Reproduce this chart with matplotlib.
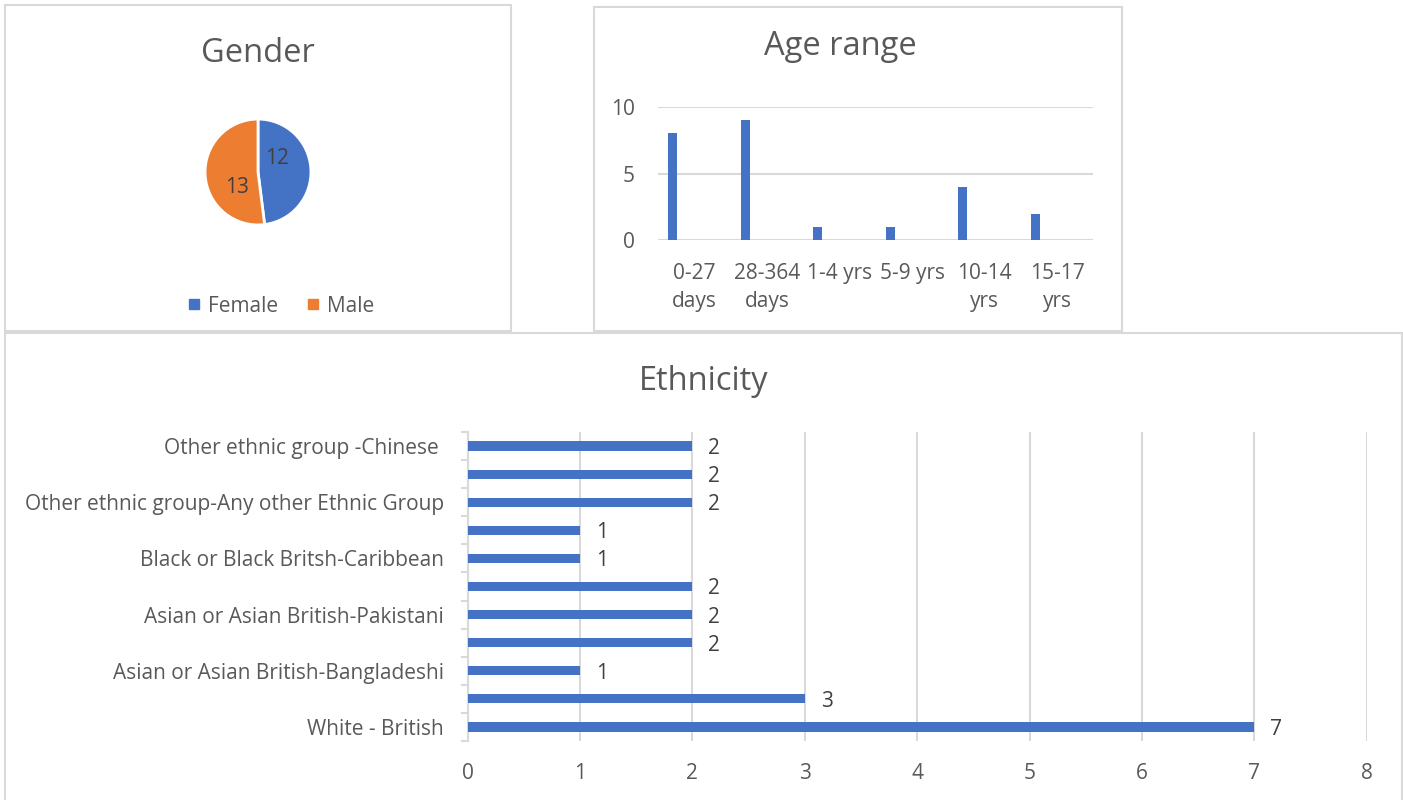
import matplotlib
matplotlib.use("Agg")
import matplotlib.pyplot as plt
from matplotlib.patches import Rectangle
from matplotlib.lines import Line2D
import numpy as np

plt.rcParams['font.family'] = ['Open Sans', 'DejaVu Sans']

# ---------------- data ----------------
gender_labels = ["Female", "Male"]
gender_values = [12, 13]

age_categories = ["0-27\ndays", "28-364\ndays", "1-4 yrs", "5-9 yrs", "10-14\nyrs", "15-17\nyrs"]
age_values = [8, 9, 1, 1, 4, 2]
age_ticks = [0, 5, 10]

# bottom-to-top order (labels hidden in the source are left blank)
eth_categories = ["White - British", "", "Asian or Asian British-Bangladeshi", "",
                  "Asian or Asian British-Pakistani", "", "Black or Black Britsh-Caribbean", "",
                  "Other ethnic group-Any other Ethnic Group", "", "Other ethnic group -Chinese "]
eth_values = [7, 3, 1, 2, 2, 2, 1, 1, 2, 2, 2]
eth_ticks = [0, 1, 2, 3, 4, 5, 6, 7, 8]

BLUE = "#4472C4"
ORANGE = "#ED7D31"
TXT = "#595959"
LBL = "#404040"
GRID = "#D9D9D9"
FS = 15
TFS = 23.5

W, H = 1403, 800
fig = plt.figure(figsize=(W / 100, H / 100), dpi=100)


def fbox(x0, y0, x1, y1):
    return [x0 / W, 1 - y1 / H, (x1 - x0) / W, (y1 - y0) / H]


# panel borders
for (x0, y0, x1, y1) in [(5, 5, 511, 331), (594, 7, 1122, 331), (5, 333, 1402, 812)]:
    b = fbox(x0, y0, x1, y1)
    fig.add_artist(Rectangle((b[0], b[1]), b[2], b[3], transform=fig.transFigure,
                             fill=False, edgecolor=GRID, linewidth=1.5))

# ---------------- Gender pie ----------------
axp = fig.add_axes(fbox(204, 118, 312, 226))
pie_colors = [BLUE, ORANGE]
wedges, texts, autotexts = axp.pie(
    gender_values, colors=pie_colors, startangle=90, counterclock=False,
    autopct=lambda p: f"{int(round(p * sum(gender_values) / 100))}", pctdistance=0.45,
    wedgeprops=dict(edgecolor="white", linewidth=2), radius=1.0,
    textprops=dict(fontsize=FS, color=LBL))
autotexts[0].set_position((0.35, 0.26))
autotexts[1].set_position((-0.39, -0.30))
axp.set_xlim(-1.02, 1.02)
axp.set_ylim(-1.02, 1.02)
axp.set_aspect("equal")
fig.text(258 / W, 1 - 62 / H, "Gender", ha="center", va="baseline", fontsize=TFS, color=TXT)
handles = [Line2D([], [], marker="s", linestyle="none", markersize=6.8,
                  markerfacecolor=c, markeredgecolor=c) for c in pie_colors]
fig.legend(handles, gender_labels, loc="center", bbox_to_anchor=(281 / W, 1 - 306 / H),
           ncol=2, frameon=False, fontsize=FS, labelcolor=TXT, handlelength=0.6,
           handletextpad=0.35, columnspacing=1.4)

# ---------------- Age range ----------------
axa = fig.add_axes(fbox(658.3, 106.7, 1093.3, 240.3))
x = np.arange(len(age_categories))
axa.bar(x - 0.3, age_values, width=0.124, color=BLUE, zorder=3)
axa.set_xlim(-0.5, len(age_categories) - 0.5)
axa.set_ylim(0, 10)
axa.set_yticks(age_ticks)
axa.set_xticks(x)
axa.set_xticklabels(age_categories, fontsize=FS, color=TXT, linespacing=1.45)
axa.tick_params(axis="x", length=0, pad=16)
axa.tick_params(axis="y", length=0, pad=17, labelsize=FS, labelcolor=TXT)
axa.grid(axis="y", color=GRID, linewidth=1.5, zorder=0)
for s in axa.spines.values():
    s.set_visible(False)
fig.text(840 / W, 1 - 55 / H, "Age range", ha="center", va="baseline", fontsize=TFS, color=TXT)

# ---------------- Ethnicity ----------------
axe = fig.add_axes(fbox(467.5, 432, 1366.7, 741))
y = np.arange(len(eth_categories))
bars = axe.barh(y, eth_values, height=0.33, color=BLUE, zorder=3)
axe.set_xlim(0, 8)
axe.set_ylim(-0.5, len(eth_categories) - 0.5)
axe.set_xticks(eth_ticks)
axe.set_yticks(y)
axe.set_yticklabels(eth_categories, fontsize=FS, color=TXT)
axe.set_yticks(np.arange(-0.5, len(eth_categories), 1.0), minor=True)
axe.tick_params(axis="y", which="major", length=0, pad=17)
axe.tick_params(axis="y", which="minor", length=5, width=1.5, color=GRID, direction="out")
axe.tick_params(axis="x", length=0, pad=16, labelsize=FS, labelcolor=TXT)
axe.grid(axis="x", color=GRID, linewidth=1.5, zorder=0)
for k, s in axe.spines.items():
    s.set_visible(k == "left")
axe.spines["left"].set_color(GRID)
axe.spines["left"].set_linewidth(1.5)
for b, v in zip(bars, eth_values):
    axe.annotate(f"{v}", xy=(v, b.get_y() + b.get_height() / 2), xytext=(11.5, 0),
                 textcoords="offset points", ha="left", va="center_baseline",
                 fontsize=FS, color=LBL)
fig.text(704 / W, 1 - 390 / H, "Ethnicity", ha="center", va="baseline", fontsize=TFS, color=TXT)

fig.savefig("out.png", dpi=100, facecolor="white")
